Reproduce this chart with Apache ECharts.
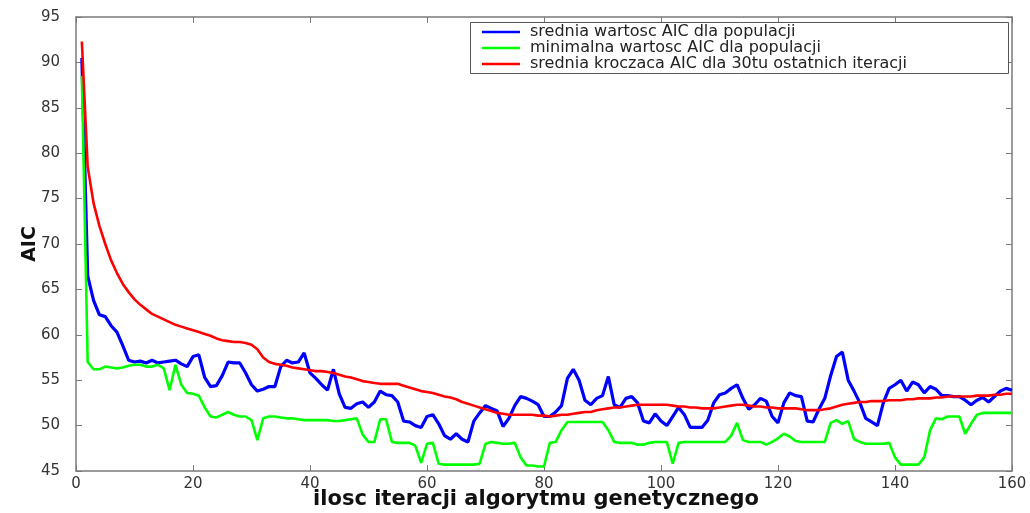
<!DOCTYPE html>
<html>
<head>
<meta charset="utf-8">
<script src="https://cdn.jsdelivr.net/npm/echarts@6/dist/echarts.min.js"></script>
<style>
html,body{margin:0;padding:0;background:#fff;}
#chart{width:1030px;height:513px;}
</style>
</head>
<body>
<div id="chart"></div>
<script>
const xTicks = [0, 20, 40, 60, 80, 100, 120, 140, 160];
const yTicks = [45, 50, 55, 60, 65, 70, 75, 80, 85, 90, 95];
const seriesNames = [
  'srednia wartosc AIC dla populacji',
  'minimalna wartosc AIC dla populacji',
  'srednia kroczaca AIC dla 30tu ostatnich iteracji'
];
// mean AIC of population, iterations 1..160
const meanAIC = [
  90.5, 66.5, 63.8, 62.2, 62.0, 61.0, 60.3, 58.8, 57.2, 57.0,
  57.1, 56.9, 57.2, 56.9, 57.0, 57.1, 57.2, 56.8, 56.5, 57.6,
  57.8, 55.3, 54.3, 54.4, 55.5, 57.0, 56.9, 56.9, 55.8, 54.5,
  53.8, 54.0, 54.3, 54.3, 56.5, 57.2, 56.9, 57.0, 58.0, 55.8,
  55.2, 54.5, 53.9, 56.2, 53.5, 52.0, 51.9, 52.4, 52.6, 52.0,
  52.6, 53.8, 53.4, 53.3, 52.6, 50.5, 50.4, 50.0, 49.8, 51.0,
  51.2, 50.2, 48.9, 48.5, 49.1, 48.5, 48.2, 50.5, 51.4, 52.2,
  51.9, 51.6, 49.9, 50.8, 52.2, 53.2, 53.0, 52.7, 52.3, 51.0,
  51.0, 51.5, 52.2, 55.2, 56.2, 55.0, 52.8, 52.3, 53.0, 53.3,
  55.4, 52.3, 52.0, 53.0, 53.2, 52.5, 50.5, 50.3, 51.3, 50.5,
  50.0, 51.0, 52.0, 51.2, 49.8, 49.8, 49.8, 50.6, 52.5, 53.4,
  53.6, 54.1, 54.5, 53.0, 51.8, 52.3, 53.0, 52.7, 51.0, 50.3,
  52.5, 53.6, 53.3, 53.2, 50.5, 50.4, 51.8, 53.0, 55.5, 57.6,
  58.1, 55.0, 53.8, 52.5, 50.8, 50.4, 50.0, 52.5, 54.1, 54.5,
  55.0, 53.8, 54.8, 54.5, 53.6, 54.3, 54.0, 53.3, 53.3, 53.2,
  53.2, 52.8, 52.3, 52.8, 53.1, 52.6, 53.2, 53.8, 54.1, 53.9
];
// minimum AIC of population
const minAIC = [
  88.5, 57.0, 56.2, 56.2, 56.5, 56.4, 56.3, 56.4, 56.6, 56.7,
  56.7, 56.5, 56.5, 56.7, 56.3, 53.9, 56.7, 54.5, 53.6, 53.5,
  53.3, 52.0, 51.0, 50.9, 51.2, 51.5, 51.2, 51.0, 51.0, 50.6,
  48.4, 50.8, 51.0, 51.0, 50.9, 50.8, 50.8, 50.7, 50.6, 50.6,
  50.6, 50.6, 50.6, 50.5, 50.5, 50.6, 50.7, 50.8, 49.0, 48.2,
  48.2, 50.7, 50.7, 48.2, 48.1, 48.1, 48.1, 47.8, 45.9, 48.0,
  48.1, 45.8, 45.7, 45.7, 45.7, 45.7, 45.7, 45.7, 45.8, 48.0,
  48.2, 48.1, 48.0, 48.0, 48.1, 46.5, 45.6, 45.6, 45.5, 45.5,
  48.1, 48.2, 49.5, 50.4, 50.4, 50.4, 50.4, 50.4, 50.4, 50.4,
  49.5, 48.2, 48.1, 48.1, 48.1, 47.9, 47.9, 48.1, 48.2, 48.2,
  48.2, 45.8, 48.1, 48.2, 48.2, 48.2, 48.2, 48.2, 48.2, 48.2,
  48.2, 48.9, 50.3, 48.4, 48.2, 48.2, 48.2, 47.9, 48.2, 48.6,
  49.1, 48.8, 48.3, 48.2, 48.2, 48.2, 48.2, 48.2, 50.3, 50.6,
  50.2, 50.5, 48.5, 48.2, 48.0, 48.0, 48.0, 48.0, 48.1, 46.5,
  45.7, 45.7, 45.7, 45.7, 46.5, 49.5, 50.8, 50.7, 51.0, 51.0,
  51.0, 49.1, 50.2, 51.2, 51.4, 51.4, 51.4, 51.4, 51.4, 51.4
];
// moving average of AIC over last 30 iterations
const movingAIC = [
  92.3, 78.5, 74.5, 72.0, 70.0, 68.2, 66.8, 65.6, 64.7, 63.9,
  63.3, 62.8, 62.3, 62.0, 61.7, 61.4, 61.1, 60.9, 60.7, 60.5,
  60.3, 60.1, 59.9, 59.6, 59.4, 59.3, 59.2, 59.2, 59.1, 58.9,
  58.4, 57.5, 57.0, 56.8, 56.7, 56.6, 56.4, 56.3, 56.2, 56.1,
  56.0, 56.0, 55.9, 55.8, 55.6, 55.4, 55.3, 55.1, 54.9, 54.8,
  54.7, 54.6, 54.6, 54.6, 54.6, 54.4, 54.2, 54.0, 53.8, 53.7,
  53.6, 53.4, 53.2, 53.1, 52.9, 52.6, 52.4, 52.2, 52.0, 51.8,
  51.6, 51.4, 51.3, 51.2, 51.2, 51.2, 51.2, 51.2, 51.1, 51.1,
  51.0, 51.1, 51.2, 51.2, 51.3, 51.4, 51.5, 51.5, 51.7, 51.8,
  51.9, 52.0, 52.0, 52.1, 52.2, 52.3, 52.3, 52.3, 52.3, 52.3,
  52.3, 52.2, 52.1, 52.1, 52.0, 52.0, 51.9, 51.9, 51.9, 52.0,
  52.1, 52.2, 52.3, 52.3, 52.2, 52.1, 52.1, 52.0, 52.0, 51.9,
  51.9, 51.9, 51.9, 51.8, 51.7, 51.7, 51.7, 51.8, 51.9, 52.1,
  52.3, 52.4, 52.5, 52.6, 52.6, 52.7, 52.7, 52.7, 52.8, 52.8,
  52.8, 52.9, 52.9, 53.0, 53.0, 53.0, 53.1, 53.1, 53.2, 53.2,
  53.2, 53.2, 53.2, 53.3, 53.3, 53.3, 53.4, 53.4, 53.5, 53.5
];
const colors = ['#0000ff', '#00ff00', '#ff0000'];
const xName = 'ilosc iteracji algorytmu genetycznego';
const yName = 'AIC';

const iterations = meanAIC.map((_, k) => k + 1);
const pairs = arr => arr.map((v, k) => [iterations[k], v]);

const font = 'DejaVu Sans';
const axisGray = '#7a7a7a';
const xMin = xTicks[0], xMax = xTicks[xTicks.length - 1], xInt = xTicks[1] - xTicks[0];
const yMin = yTicks[0], yMax = yTicks[yTicks.length - 1], yInt = yTicks[1] - yTicks[0];

function xAx(pos, show) {
  return {
    type: 'value', position: pos, min: xMin, max: xMax, interval: xInt,
    name: show ? xName : '', nameLocation: 'middle', nameGap: 18, nameMoveOverlap: false,
    nameTextStyle: { fontFamily: font, fontSize: 21, fontWeight: 'bold', color: '#111', padding: [0, 16, 0, 0] },
    axisLine: { show: true, onZero: false, lineStyle: { color: axisGray, width: 1.5 } },
    axisTick: { show: true, inside: true, length: 6, lineStyle: { color: axisGray } },
    axisLabel: { show: show, margin: 6, fontFamily: font, fontSize: 15, color: '#333' },
    splitLine: { show: false }
  };
}
function yAx(pos, show) {
  return {
    type: 'value', position: pos, min: yMin, max: yMax, interval: yInt,
    name: show ? yName : '', nameLocation: 'middle', nameGap: 36, nameMoveOverlap: false,
    nameTextStyle: { fontFamily: font, fontSize: 19, fontWeight: 'bold', color: '#111' },
    axisLine: { show: true, onZero: false, lineStyle: { color: axisGray, width: 1.5 } },
    axisTick: { show: true, inside: true, length: 6, lineStyle: { color: axisGray } },
    axisLabel: { show: show, margin: 16, fontFamily: font, fontSize: 15, color: '#333' },
    splitLine: { show: false }
  };
}

const chart = echarts.init(document.getElementById('chart'), null, { renderer: 'canvas' });
chart.setOption({
  animation: false,
  backgroundColor: '#ffffff',
  grid: { left: 76, right: 18, top: 17, bottom: 42, outerBoundsMode: 'none', containLabel: false },
  xAxis: [xAx('bottom', true), xAx('top', false)],
  yAxis: [yAx('left', true), yAx('right', false)],
  graphic: [{
    type: 'rect', z: 50,
    shape: { x: 470.5, y: 22.5, width: 538, height: 51 },
    style: { fill: '#ffffff', stroke: '#555555', lineWidth: 1 }
  }],
  legend: {
    orient: 'vertical', left: 482, top: 24, z: 60,
    data: seriesNames.map(n => ({ name: n, icon: 'rect' })),
    itemWidth: 38, itemHeight: 2.5, itemGap: 0,
    padding: 0,
    textStyle: { fontFamily: font, fontSize: 16, color: '#222', lineHeight: 15.7, padding: [0, 0, 0, 5] },
    selectedMode: false
  },
  series: [meanAIC, minAIC, movingAIC].map((arr, k) => ({
    name: seriesNames[k], type: 'line', data: pairs(arr),
    xAxisIndex: 0, yAxisIndex: 0,
    symbol: 'none', smooth: false,
    lineStyle: { color: colors[k], width: k === 0 ? 3.2 : 2.6 },
    itemStyle: { color: colors[k] }
  }))
});
</script>
</body>
</html>
